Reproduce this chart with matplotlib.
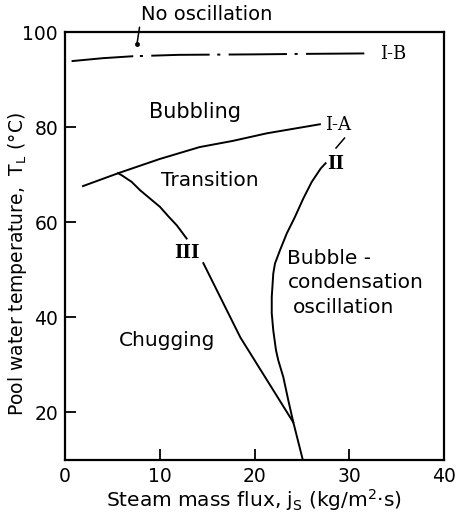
import numpy as np
import matplotlib
matplotlib.use("Agg")
import matplotlib.pyplot as plt

plt.rcParams['font.family'] = ['DejaVu Sans']
plt.rcParams['mathtext.default'] = 'regular'
plt.rcParams['lines.scale_dashes'] = False

# boundary curves of the flow-regime map (steam flux, pool temperature)
ib_x = [0.8, 4.0, 7.1, 12.0, 20.0, 25.0, 31.9]
ib_y = [93.9, 94.5, 94.9, 95.2, 95.3, 95.4, 95.5]

ia_x = [1.9, 5.6, 10.0, 14.2, 17.7, 21.3, 26.9]
ia_y = [67.6, 70.3, 73.3, 75.8, 77.1, 78.7, 80.6]

ii_x = [24.09, 23.57, 23.04, 22.51, 22.27, 21.98, 21.82, 21.82, 21.98,
        22.16, 22.69, 23.40, 24.27, 25.15, 26.04, 26.99, 27.5]
ii_y = [17.96, 22.53, 27.43, 30.95, 33.05, 37.26, 40.84, 44.27, 49.20,
        51.31, 54.11, 57.62, 61.12, 64.99, 68.48, 71.31, 72.4]

iii_top_x = [5.6, 5.98, 7.04, 7.92, 8.97, 10.03, 10.9, 11.79, 12.84]
iii_top_y = [70.3, 69.89, 68.48, 66.74, 64.99, 63.22, 61.26, 59.37, 56.57]
iii_low_x = [14.6, 18.5, 24.1, 25.1]
iii_low_y = [51.4, 35.8, 17.9, 10.0]

x_ticks = [0, 10, 20, 30, 40]
y_ticks = [20, 40, 60, 80, 100]

fig = plt.figure(figsize=(4.57, 5.19), dpi=100)
ax = fig.add_axes([0.1422, 0.1137, 0.8294, 0.8246])

lw = 1.4
# I-B: solid at low flux, dash-dot beyond
ax.plot(ib_x[:3], ib_y[:3], color='k', lw=lw)
ax.plot(ib_x[2:], ib_y[2:], color='k', lw=lw,
        linestyle=(42.0, (42.0, 5.5, 2.2, 6.0)))
ax.plot(ia_x, ia_y, color='k', lw=lw)
ax.plot(ii_x, ii_y, color='k', lw=lw)
ax.plot(iii_top_x, iii_top_y, color='k', lw=lw)
ax.plot(iii_low_x, iii_low_y, color='k', lw=lw)

# curve labels (roman numerals in a slab serif)
roman = dict(family='DejaVu Serif', ha='center', va='center')
ax.text(34.6, 95.4, 'I-B', fontsize=13, **roman)
ax.text(28.8, 80.4, 'I-A', fontsize=13, **roman)
ax.text(28.6, 72.3, 'II', fontsize=13, fontweight='bold', **roman)
ax.text(12.9, 53.6, 'III', fontsize=13, fontweight='bold', **roman)
ax.plot([28.6, 29.5], [75.6, 77.7], color='k', lw=1.1)

# regime names
ax.text(13.7, 83.2, 'Bubbling', fontsize=15, ha='center', va='center')
ax.text(15.3, 68.8, 'Transition', fontsize=14.5, ha='center', va='center')
ax.text(10.8, 35.2, 'Chugging', fontsize=14.5, ha='center', va='center')
ax.text(23.4, 52.4, 'Bubble -', fontsize=14.5, ha='left', va='center')
ax.text(23.5, 47.3, 'condensation', fontsize=14.5, ha='left', va='center')
ax.text(24.1, 42.1, 'oscillation', fontsize=14.5, ha='left', va='center')

# "No oscillation" with pointer to the region above I-B
ax.plot([7.6], [97.5], 'ko', ms=2.5)
ax.annotate('No oscillation', xy=(7.6, 97.5), xytext=(8.0, 103.6),
            fontsize=14, ha='left', va='center', annotation_clip=False,
            arrowprops=dict(arrowstyle='-', color='k', lw=1.1,
                            shrinkA=0, shrinkB=0,
                            relpos=(0.0, 0.3)))

ax.set_xlim(0, 40)
ax.set_ylim(10, 100)
ax.set_xticks(x_ticks)
ax.set_yticks(y_ticks)
ax.tick_params(direction='in', length=8, width=1.3, labelsize=13.5,
               top=False, right=False, pad=5)
for s in ax.spines.values():
    s.set_linewidth(1.6)

ax.set_xlabel(r'Steam mass flux, $j_S$ (kg/m$^2$·s)', fontsize=14.5)
ax.set_ylabel(r'Pool water temperature,  $T_L$ (°C)', fontsize=13.5)
ax.xaxis.set_label_coords(0.499, -0.094)
ax.yaxis.set_label_coords(-0.124, 0.458)
ax.yaxis.label.set_va('center')
ax.xaxis.label.set_va('center')

fig.savefig('out.png', dpi=100)
